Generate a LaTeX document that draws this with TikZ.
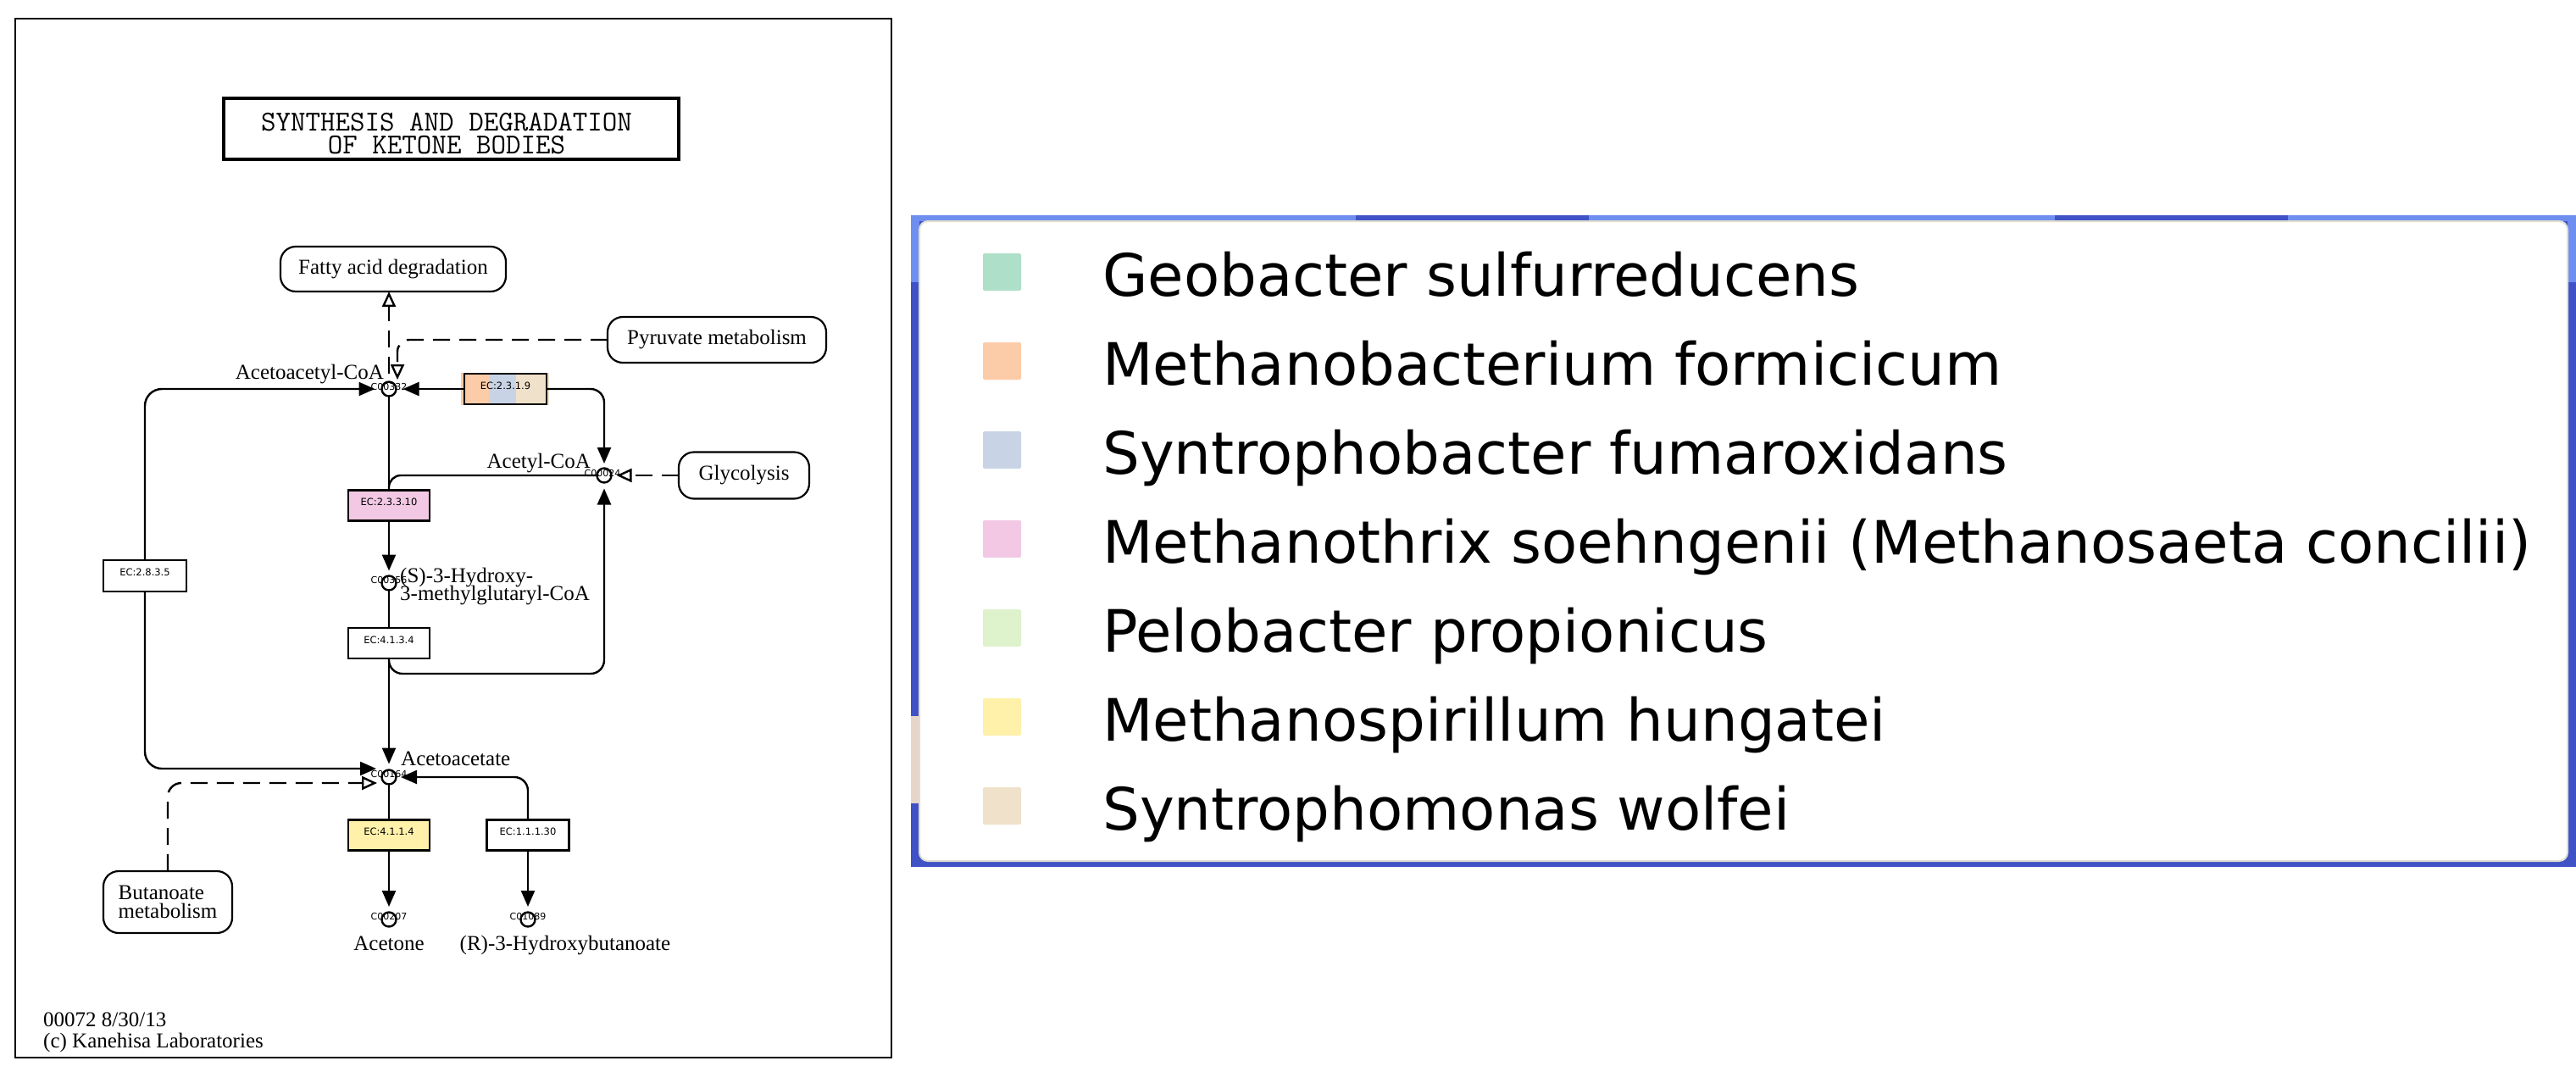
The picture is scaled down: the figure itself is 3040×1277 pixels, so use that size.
\documentclass[tikz,border=0pt]{standalone}
\usepackage{fontspec}
\setmainfont{Liberation Serif}
\newfontfamily\dvs{DejaVu Sans}
\usetikzlibrary{arrows.meta,calc}
\definecolor{cgeo}{HTML}{AEDFC8}
\definecolor{cmbf}{HTML}{FCCBA7}
\definecolor{csfu}{HTML}{C8D4E6}
\definecolor{cmso}{HTML}{F2C8E4}
\definecolor{cppr}{HTML}{DEF2CC}
\definecolor{cmhu}{HTML}{FFF0AA}
\definecolor{cswo}{HTML}{F0E1CA}
\definecolor{bluelt}{HTML}{6E8EF0}
\definecolor{bluedk}{HTML}{3F52C6}
\definecolor{panedge}{HTML}{E2DED0}
\definecolor{patch}{HTML}{E6D6CA}
\begin{document}
\begin{tikzpicture}[x=1pt,y=-1pt,
  ln/.style={line width=2.4pt},
  ar/.style={ln,-{Triangle[width=16pt,length=19pt]}},
  dl/.style={ln,dash pattern=on 20pt off 11pt},
  oar/.style={dl,-{Triangle[open,width=16pt,length=18pt,fill=white]}},
  cpd/.style={circle,draw,line width=2.4pt,minimum size=17pt,inner sep=0pt,outer sep=0pt},
  cid/.style={font=\dvs\fontsize{11}{11}\selectfont,anchor=base,inner sep=0pt},
  ecbox/.style={draw,line width=2.6pt,minimum width=96pt,minimum height=36pt,inner sep=0pt,outer sep=0pt,
     font=\dvs\fontsize{11.5}{12}\selectfont,text height=8pt,text depth=8pt},
  mapbox/.style={draw,line width=2.2pt,rounded corners=18pt,inner sep=0pt,outer sep=0pt,
     font=\fontsize{25}{22}\selectfont},
  lbl/.style={font=\fontsize{25}{25}\selectfont,inner sep=0pt},
  ttl/.style={font=\ttfamily\fontsize{34}{34}\selectfont,anchor=base,inner sep=0pt,text height=23pt,text depth=1pt},
  sw/.style={minimum width=45pt,minimum height=44pt,inner sep=0pt,rounded corners=2pt},
  leg/.style={font=\dvs\fontsize{69}{69}\selectfont,inner sep=0pt},
]
\useasboundingbox (0,0) rectangle (3040,1277);
\fill[white] (0,0) rectangle (3040,1277);

% ---------------- KEGG panel ----------------
\draw[line width=2.8pt] (18,22) rectangle (1052,1248);
\node[draw,line width=3.6pt,minimum width=537pt,minimum height=72pt,inner sep=0pt] (title) at (532.5,152) {};
\node[ttl] (title1) at (527,154) {SYNTHESIS AND DEGRADATION};
\node[ttl] (title2) at (527,181) {OF KETONE BODIES};

% pathway maps
\node[mapbox,minimum width=266pt,minimum height=53pt] (fatty) at (464,317.5) {Fatty acid degradation};
\node[mapbox,minimum width=258pt,minimum height=54pt] (pyr) at (846,401) {Pyruvate metabolism};
\node[mapbox,minimum width=154pt,minimum height=55pt] (gly) at (878,561) {Glycolysis};
\node[mapbox,minimum width=152pt,minimum height=73pt,align=left] (but) at (198,1064.5) {Butanoate\\metabolism};

% compound id labels
\node[cid] (id1) at (459,460) {C00332};
\node[cid] (id2) at (711,562) {C00024};
\node[cid] (id3) at (459,688) {C00356};
\node[cid] (id4) at (459,917) {C00164};
\node[cid] (id5) at (459,1085) {C00207};
\node[cid] (id6) at (623,1085) {C01089};

% compounds
\node[cpd] (a1) at (459,459) {};
\node[cpd] (a2) at (713,561) {};
\node[cpd] (h) at (459,688) {};
\node[cpd] (aa) at (459,917) {};
\node[cpd] (ac) at (459,1085) {};
\node[cpd] (rb) at (623,1085) {};

% compound names
\node[lbl,anchor=base east] (n1) at (453,447) {Acetoacetyl-CoA};
\node[lbl,anchor=base east] (n2) at (697,552) {Acetyl-CoA};
\node[lbl,anchor=base west,text height=18pt,text depth=1pt] (n3a) at (472,687) {(S)-3-Hydroxy-};
\node[lbl,anchor=base west,text height=17pt] (n3b) at (472,708) {3-methylglutaryl-CoA};
\node[lbl,anchor=base west] (n4) at (473,903) {Acetoacetate};
\node[lbl,anchor=base] (n5) at (459,1121) {Acetone};
\node[lbl,anchor=base] (n6) at (667,1121) {(R)-3-Hydroxybutanoate};

% enzymes
\fill[cmbf] (544,440) rectangle (577,478);
\fill[csfu] (577,440) rectangle (609,478);
\fill[cswo] (609,440) rectangle (648,478);
\node[ecbox,minimum width=97pt] (e2319) at (596.5,459) {EC:2.3.1.9};
\node[ecbox,fill=cmso] (e23310) at (459,596.5) {EC:2.3.3.10};
\node[ecbox] (e4134) at (459,759) {EC:4.1.3.4};
\node[ecbox,minimum width=98pt,minimum height=37pt] (e2835) at (171,679.5) {EC:2.8.3.5};
\node[ecbox,fill=cmhu] (e4114) at (459,985.5) {EC:4.1.1.4};
\node[ecbox,minimum width=97pt] (e11130) at (623,985.5) {EC:1.1.1.30};

% helper coordinates
\coordinate (c1) at (713,795);
\coordinate (aatip) at (444,907);
\coordinate (pyrtip) at (469,448);
\coordinate (buttip) at (445,924);

% connectors
\draw[ln] (a1) -- (e23310);
\draw[ar,shorten >=6pt] (e23310) -- (h);
\draw[ln] (h) -- (e4134);
\draw[ar,shorten >=7pt] (e4134) -- (aa);
\draw[ar,shorten >=8pt] (e2319) -- (a1);
\draw[ar,rounded corners=16pt,shorten >=5.5pt] (e2319.east) -| (a2);
\draw[ln,rounded corners=14pt] (a2.west) -| (e23310.north);
\draw[ar,rounded corners=16pt,shorten >=7pt] (e4134.south) |- (c1) -- (a2);
\draw[ar,rounded corners=20pt,shorten >=8pt] (e2835.north) |- (a1);
\draw[ar,rounded corners=20pt] (e2835.south) |- (aatip);
\draw[ln] (aa) -- (e4114);
\draw[ar,shorten >=6.5pt] (e4114) -- (ac);
\draw[ar,rounded corners=16pt,shorten >=5.5pt] (e11130.north) |- (aa);
\draw[ar,shorten >=6.5pt] (e11130) -- (rb);

% dashed map links
\draw[oar] ([yshift=10pt]a1.north) -- (fatty.south -| a1);
\draw[oar,rounded corners=14pt] (pyr.west) -| (pyrtip);
\draw[oar,shorten >=6pt] (gly.west) -- (a2);
\draw[oar,rounded corners=16pt] (but.north) |- (buttip);

% footer
\node[lbl,anchor=base west,text height=18pt,text depth=2pt] (f1) at (51,1211) {00072 8/30/13};
\node[lbl,anchor=base west,text height=18pt] (f2) at (51,1236) {(c) Kanehisa Laboratories};

% ---------------- Legend panel ----------------
\fill[bluedk] (1075,254) rectangle (3040,1023);
\fill[bluelt] (1075,254) rectangle (3040,261);
\fill[bluelt] (1075,254) rectangle (1085,333);
\fill[bluelt] (3030,254) rectangle (3040,333);
\fill[bluedk] (1600,254) rectangle (1875,261);
\fill[bluedk] (2425,254) rectangle (2700,261);
\fill[patch] (1075,845) rectangle (1085,948);
\draw[panedge,fill=white,line width=2pt,rounded corners=10pt] (1085,261) rectangle (3030,1016);

\foreach \c/\t [count=\i from 0] in {cgeo/Geobacter sulfurreducens,
  cmbf/Methanobacterium formicicum,
  csfu/Syntrophobacter fumaroxidans,
  cmso/Methanothrix soehngenii (Methanosaeta concilii),
  cppr/Pelobacter propionicus,
  cmhu/Methanospirillum hungatei,
  cswo/Syntrophomonas wolfei}{
  \node[sw,fill=\c] (s\i) at (1182.5,{321+105*\i}) {};
  \node[leg,anchor=base west] (l\i) at (1301,{349+105*\i}) {\t};
}
\end{tikzpicture}
\end{document}
